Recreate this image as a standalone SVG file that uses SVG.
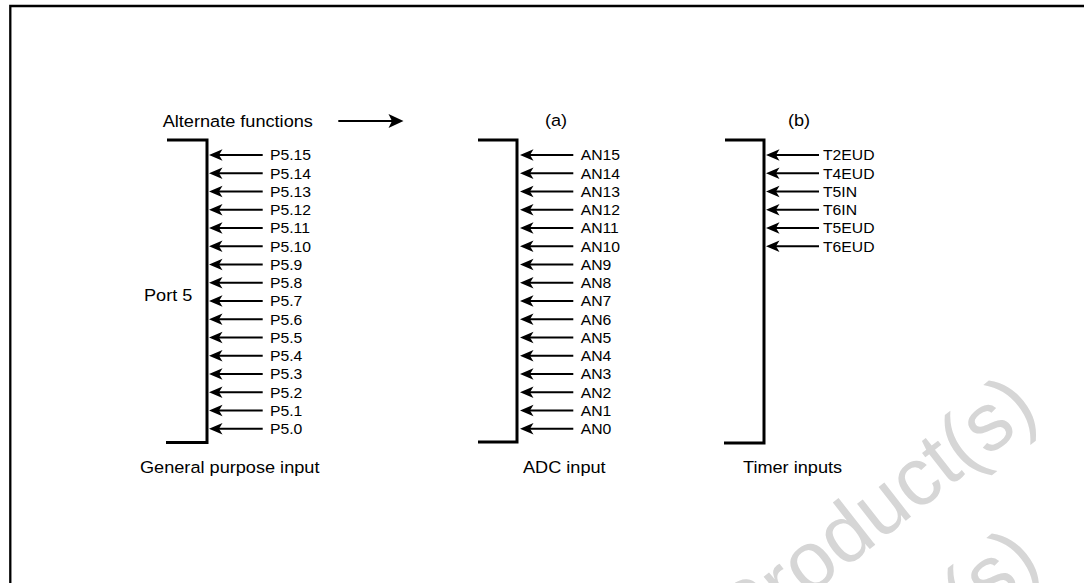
<svg xmlns="http://www.w3.org/2000/svg" width="1084" height="583" viewBox="0 0 1084 583">
<style>
text{font-family:"Liberation Sans",Arial,Helvetica,sans-serif;fill:#000}
.lbl{font-size:16.5px}
.pin{font-size:14.3px}
.wm{font-size:82px;fill:#d6d6d6}
.br{fill:none;stroke:#000;stroke-width:3;stroke-linejoin:miter}
.frame{fill:none;stroke:#000;stroke-width:2.3}
.ar{stroke:#000;stroke-width:1.8;fill:none;marker-end:url(#ah)}
.ar2{stroke:#000;stroke-width:1.9;fill:none;marker-end:url(#ah2)}
</style>
<defs>
<marker id="ah" markerUnits="userSpaceOnUse" orient="auto" refX="0" refY="0" markerWidth="20" markerHeight="20" overflow="visible">
<path d="M6,0 L-7.5,-5.8 L-4,0 L-7.5,5.8 Z" fill="#000"/>
</marker>
<marker id="ah2" markerUnits="userSpaceOnUse" orient="auto" refX="0" refY="0" markerWidth="20" markerHeight="20" overflow="visible">
<path d="M6,0 L-9,-7 L-5.5,0 L-9,7 Z" fill="#000"/>
</marker>
</defs>
<rect width="1084" height="583" fill="#fff"/>
<g id="watermark">
<text class="wm" transform="translate(743 648) rotate(-38)">Product(s)</text>
<text class="wm" transform="translate(746 801) rotate(-38)">Product(s)</text>
</g>
<path class="frame" d="M10.3,583 V6 H1084"/>
<g id="header">
<text class="lbl" transform="translate(162.7 126.5) scale(1.1 1)">Alternate functions</text>
<text class="lbl" transform="translate(545 126) scale(1.1 1)">(a)</text>
<text class="lbl" transform="translate(788 126) scale(1.1 1)">(b)</text>
</g>
<g id="port5">
<path class="br" d="M167,140 H207 V442.5 H166"/>
<text class="lbl" transform="translate(144 300.7) scale(1.1 1)">Port 5</text>
<text class="lbl" transform="translate(140 473) scale(1.1 1)">General purpose input</text>
<g id="port5-pins">
<text class="pin" transform="translate(270 160.3) scale(1.1 1)">P5.15</text>
<text class="pin" transform="translate(270 178.55) scale(1.1 1)">P5.14</text>
<text class="pin" transform="translate(270 196.8) scale(1.1 1)">P5.13</text>
<text class="pin" transform="translate(270 215.05) scale(1.1 1)">P5.12</text>
<text class="pin" transform="translate(270 233.3) scale(1.1 1)">P5.11</text>
<text class="pin" transform="translate(270 251.55) scale(1.1 1)">P5.10</text>
<text class="pin" transform="translate(270 269.8) scale(1.1 1)">P5.9</text>
<text class="pin" transform="translate(270 288.05) scale(1.1 1)">P5.8</text>
<text class="pin" transform="translate(270 306.3) scale(1.1 1)">P5.7</text>
<text class="pin" transform="translate(270 324.55) scale(1.1 1)">P5.6</text>
<text class="pin" transform="translate(270 342.8) scale(1.1 1)">P5.5</text>
<text class="pin" transform="translate(270 361.05) scale(1.1 1)">P5.4</text>
<text class="pin" transform="translate(270 379.3) scale(1.1 1)">P5.3</text>
<text class="pin" transform="translate(270 397.55) scale(1.1 1)">P5.2</text>
<text class="pin" transform="translate(270 415.8) scale(1.1 1)">P5.1</text>
<text class="pin" transform="translate(270 434.05) scale(1.1 1)">P5.0</text>
</g>
</g>
<g id="adc">
<path class="br" d="M478,140 H517 V442 H478"/>
<text class="lbl" transform="translate(523 473) scale(1.1 1)">ADC input</text>
<g id="adc-pins">
<text class="pin" transform="translate(580.7 160.3) scale(1.1 1)">AN15</text>
<text class="pin" transform="translate(580.7 178.55) scale(1.1 1)">AN14</text>
<text class="pin" transform="translate(580.7 196.8) scale(1.1 1)">AN13</text>
<text class="pin" transform="translate(580.7 215.05) scale(1.1 1)">AN12</text>
<text class="pin" transform="translate(580.7 233.3) scale(1.1 1)">AN11</text>
<text class="pin" transform="translate(580.7 251.55) scale(1.1 1)">AN10</text>
<text class="pin" transform="translate(580.7 269.8) scale(1.1 1)">AN9</text>
<text class="pin" transform="translate(580.7 288.05) scale(1.1 1)">AN8</text>
<text class="pin" transform="translate(580.7 306.3) scale(1.1 1)">AN7</text>
<text class="pin" transform="translate(580.7 324.55) scale(1.1 1)">AN6</text>
<text class="pin" transform="translate(580.7 342.8) scale(1.1 1)">AN5</text>
<text class="pin" transform="translate(580.7 361.05) scale(1.1 1)">AN4</text>
<text class="pin" transform="translate(580.7 379.3) scale(1.1 1)">AN3</text>
<text class="pin" transform="translate(580.7 397.55) scale(1.1 1)">AN2</text>
<text class="pin" transform="translate(580.7 415.8) scale(1.1 1)">AN1</text>
<text class="pin" transform="translate(580.7 434.05) scale(1.1 1)">AN0</text>
</g>
</g>
<g id="timer">
<path class="br" d="M725,140 H764 V443 H724"/>
<text class="lbl" transform="translate(743 473) scale(1.1 1)">Timer inputs</text>
<g id="timer-pins">
<text class="pin" transform="translate(823 160.3) scale(1.1 1)">T2EUD</text>
<text class="pin" transform="translate(823 178.55) scale(1.1 1)">T4EUD</text>
<text class="pin" transform="translate(823 196.8) scale(1.1 1)">T5IN</text>
<text class="pin" transform="translate(823 215.05) scale(1.1 1)">T6IN</text>
<text class="pin" transform="translate(823 233.3) scale(1.1 1)">T5EUD</text>
<text class="pin" transform="translate(823 251.55) scale(1.1 1)">T6EUD</text>
</g>
</g>
<g id="connectors">
<line class="ar2" x1="338.3" y1="121" x2="397.5" y2="121"/>
<line class="ar" x1="262.7" y1="155" x2="215" y2="155"/>
<line class="ar" x1="262.7" y1="173.25" x2="215" y2="173.25"/>
<line class="ar" x1="262.7" y1="191.5" x2="215" y2="191.5"/>
<line class="ar" x1="262.7" y1="209.75" x2="215" y2="209.75"/>
<line class="ar" x1="262.7" y1="228" x2="215" y2="228"/>
<line class="ar" x1="262.7" y1="246.25" x2="215" y2="246.25"/>
<line class="ar" x1="262.7" y1="264.5" x2="215" y2="264.5"/>
<line class="ar" x1="262.7" y1="282.75" x2="215" y2="282.75"/>
<line class="ar" x1="262.7" y1="301" x2="215" y2="301"/>
<line class="ar" x1="262.7" y1="319.25" x2="215" y2="319.25"/>
<line class="ar" x1="262.7" y1="337.5" x2="215" y2="337.5"/>
<line class="ar" x1="262.7" y1="355.75" x2="215" y2="355.75"/>
<line class="ar" x1="262.7" y1="374" x2="215" y2="374"/>
<line class="ar" x1="262.7" y1="392.25" x2="215" y2="392.25"/>
<line class="ar" x1="262.7" y1="410.5" x2="215" y2="410.5"/>
<line class="ar" x1="262.7" y1="428.75" x2="215" y2="428.75"/>
<line class="ar" x1="573.3" y1="155" x2="526" y2="155"/>
<line class="ar" x1="573.3" y1="173.25" x2="526" y2="173.25"/>
<line class="ar" x1="573.3" y1="191.5" x2="526" y2="191.5"/>
<line class="ar" x1="573.3" y1="209.75" x2="526" y2="209.75"/>
<line class="ar" x1="573.3" y1="228" x2="526" y2="228"/>
<line class="ar" x1="573.3" y1="246.25" x2="526" y2="246.25"/>
<line class="ar" x1="573.3" y1="264.5" x2="526" y2="264.5"/>
<line class="ar" x1="573.3" y1="282.75" x2="526" y2="282.75"/>
<line class="ar" x1="573.3" y1="301" x2="526" y2="301"/>
<line class="ar" x1="573.3" y1="319.25" x2="526" y2="319.25"/>
<line class="ar" x1="573.3" y1="337.5" x2="526" y2="337.5"/>
<line class="ar" x1="573.3" y1="355.75" x2="526" y2="355.75"/>
<line class="ar" x1="573.3" y1="374" x2="526" y2="374"/>
<line class="ar" x1="573.3" y1="392.25" x2="526" y2="392.25"/>
<line class="ar" x1="573.3" y1="410.5" x2="526" y2="410.5"/>
<line class="ar" x1="573.3" y1="428.75" x2="526" y2="428.75"/>
<line class="ar" x1="819" y1="155" x2="772" y2="155"/>
<line class="ar" x1="819" y1="173.25" x2="772" y2="173.25"/>
<line class="ar" x1="819" y1="191.5" x2="772" y2="191.5"/>
<line class="ar" x1="819" y1="209.75" x2="772" y2="209.75"/>
<line class="ar" x1="819" y1="228" x2="772" y2="228"/>
<line class="ar" x1="819" y1="246.25" x2="772" y2="246.25"/>
</g>
</svg>
